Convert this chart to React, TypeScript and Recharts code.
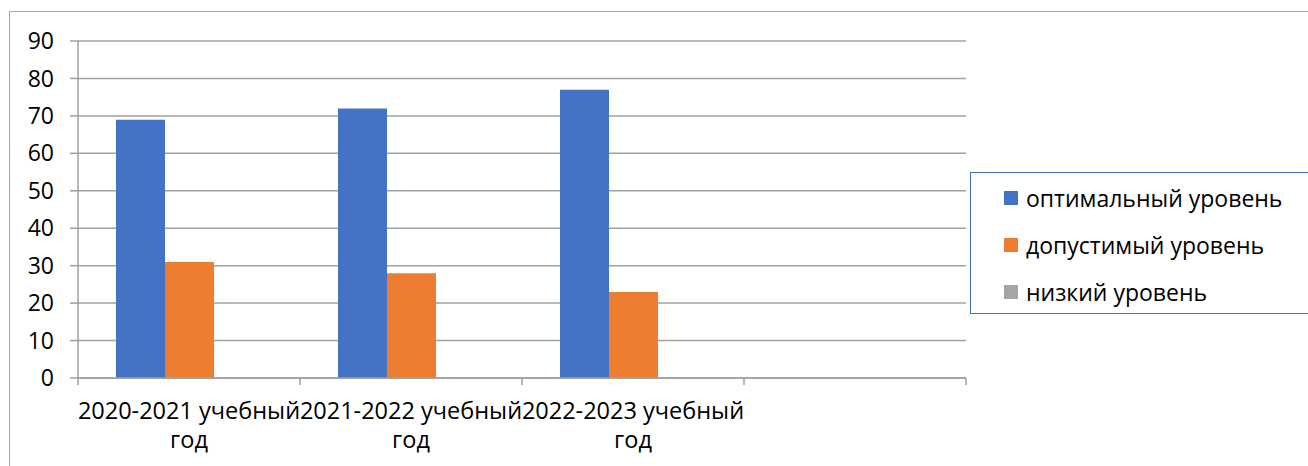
import React from "react";
import { BarChart, Bar, XAxis, YAxis, CartesianGrid, Legend } from "recharts";

const categories = ["2020-2021 учебный год", "2021-2022 учебный год", "2022-2023 учебный год", ""];
const optimalLevel = [69, 72, 77, null];
const acceptableLevel = [31, 28, 23, null];
const lowLevel = [0, 0, 0, null];
const yTicks = [0, 10, 20, 30, 40, 50, 60, 70, 80, 90];

const seriesNames = ["оптимальный уровень", "допустимый уровень", "низкий уровень"];
const seriesColors = ["#4472C4", "#ED7D31", "#A5A5A5"];

const data = categories.map((c, i) => ({
  name: c,
  optimal: optimalLevel[i],
  acceptable: acceptableLevel[i],
  low: lowLevel[i],
}));

const FONT = "'Open Sans', sans-serif";
const W = 1308;
const H = 466;
const LEGEND_W = 340;
const M = { top: 41, right: 2, bottom: 0, left: 18 };
const Y_W = 60;
const X_H = 88;
const PLOT_RIGHT = 966;

const XTick = (props: any) => {
  const { x, payload, index } = props;
  const plotW = PLOT_RIGHT - (M.left + Y_W);
  const band = plotW / categories.length;
  const label: string = payload.value || "";
  const idx = label.lastIndexOf(" ");
  const l1 = idx > 0 ? label.slice(0, idx) : label;
  const l2 = idx > 0 ? label.slice(idx + 1) : "";
  const axisY = H - M.bottom - X_H;
  return (
    <g>
      <line x1={x - band / 2} x2={x - band / 2} y1={axisY} y2={axisY + 7} stroke="#a0a0a0" strokeWidth={1.5} />
      {index === categories.length - 1 && (
        <line x1={x + band / 2} x2={x + band / 2} y1={axisY} y2={axisY + 7} stroke="#a0a0a0" strokeWidth={1.5} />
      )}
      <text x={x} y={axisY + 41} textAnchor="middle" fontFamily={FONT} fontSize={23.5} fill="#000">
        {l1}
      </text>
      <text x={x} y={axisY + 70} textAnchor="middle" fontFamily={FONT} fontSize={23.5} fill="#000">
        {l2}
      </text>
    </g>
  );
};

const LegendBox = () => (
  <div
    style={{
      boxSizing: "border-box",
      width: LEGEND_W,
      height: 142,
      border: "1.5px solid #4472C4",
      background: "#fff",
      paddingTop: 1,
      paddingLeft: 33,
    }}
  >
    {seriesNames.map((n, i) => (
      <div key={n} style={{ display: "flex", alignItems: "center", height: 47 }}>
        <div style={{ width: 14, height: 14, background: seriesColors[i], marginRight: 8, flexShrink: 0 }} />
        <span style={{ fontFamily: FONT, fontSize: 23, color: "#000", whiteSpace: "nowrap" }}>{n}</span>
      </div>
    ))}
  </div>
);

export default function App() {
  return (
    <div style={{ position: "absolute", left: 0, top: 0, width: W, height: H, overflow: "hidden", background: "#fff" }}>
      <div
        style={{
          position: "absolute",
          left: 9,
          top: 11,
          width: 1400,
          height: 600,
          border: "1.5px solid #a6a6a6",
          boxSizing: "border-box",
        }}
      />
      <div style={{ position: "absolute", left: 0, top: 0 }}>
        <BarChart
          width={W}
          height={H}
          data={data}
          margin={M}
          barGap={0}
          barCategoryGap={38}
        >
          <CartesianGrid vertical={false} stroke="#a0a0a0" strokeWidth={1.5} />
          <XAxis
            dataKey="name"
            height={X_H}
            interval={0}
            tickLine={false}
            axisLine={{ stroke: "#a0a0a0", strokeWidth: 1.5 }}
            tick={<XTick />}
          />
          <YAxis
            width={Y_W}
            domain={[0, 90]}
            ticks={yTicks}
            interval={0}
            tickSize={8}
            tickMargin={16}
            tickLine={{ stroke: "#a0a0a0", strokeWidth: 1.5 }}
            axisLine={{ stroke: "#a0a0a0", strokeWidth: 1.5 }}
            tick={{ fontFamily: FONT, fontSize: 23, fill: "#000" }}
          />
          <Legend
            layout="vertical"
            verticalAlign="top"
            align="right"
            wrapperStyle={{ position: "absolute", left: 970, top: 172, width: LEGEND_W }}
            content={() => <LegendBox />}
          />
          <Bar dataKey="optimal" name={seriesNames[0]} fill={seriesColors[0]} isAnimationActive={false} />
          <Bar dataKey="acceptable" name={seriesNames[1]} fill={seriesColors[1]} isAnimationActive={false} />
          <Bar dataKey="low" name={seriesNames[2]} fill={seriesColors[2]} isAnimationActive={false} />
        </BarChart>
      </div>
    </div>
  );
}
